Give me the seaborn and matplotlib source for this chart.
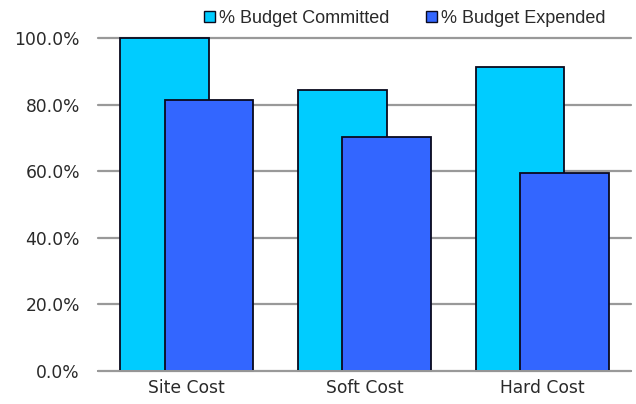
import matplotlib
matplotlib.use("Agg")
import matplotlib.pyplot as plt
import seaborn as sns
import pandas as pd
from matplotlib.patches import Patch
from matplotlib.ticker import PercentFormatter, FixedLocator

categories = ["Site Cost", "Soft Cost", "Hard Cost"]
series = ["% Budget Committed", "% Budget Expended"]
committed = [1.000, 0.843, 0.912]
expended = [0.815, 0.703, 0.595]
colors = ["#00CCFF", "#3366FF"]

df = pd.DataFrame({
    "category": categories * 2,
    "series": [series[0]] * 3 + [series[1]] * 3,
    "value": committed + expended,
})

sns.set_theme(style="white")
plt.rcParams["font.family"] = ["DejaVu Sans"]

fig = plt.figure(figsize=(6.36, 4.04), dpi=100)
ax = fig.add_axes([98/636, 33/404, (631-98)/636, (371-38)/404])

sns.barplot(data=df, x="category", y="value", hue="series", order=categories,
            hue_order=series, palette=colors, width=0.75, dodge=True,
            edgecolor="#0a0a1e", linewidth=1.3, saturation=1, legend=False, ax=ax)

# widen the dodged bars so each pair overlaps (Excel-style overlap)
for i, cont in enumerate(ax.containers):
    for p in cont.patches:
        if i == 1:
            p.set_x(p.get_x() - 0.125)
        p.set_width(0.5)
        p.set_clip_on(False)

ax.set_xlim(-0.5, 2.5)
ax.set_ylim(0, 1.0)
ax.yaxis.set_major_locator(FixedLocator([0, 0.2, 0.4, 0.6, 0.8, 1.0]))
ax.yaxis.set_major_formatter(PercentFormatter(1.0, decimals=1))
ax.set_xlabel("")
ax.set_ylabel("")

ax.set_axisbelow(True)
ax.grid(axis="y", color="#999999", linewidth=1.6)
ax.grid(axis="x", visible=False)
for gl in ax.get_ygridlines():
    gl.set_clip_on(False)

for s in ["top", "right", "left"]:
    ax.spines[s].set_visible(False)
ax.spines["bottom"].set_color("#999999")
ax.spines["bottom"].set_linewidth(1.4)

ax.tick_params(axis="y", length=0, pad=13, labelsize=12.3, labelcolor="#2a2a2a")
ax.tick_params(axis="x", which="major", length=0, pad=6, labelsize=12.3, labelcolor="#2a2a2a")
ax.set_xticks([-0.5, 0.5, 1.5, 2.5], minor=True)
ax.tick_params(axis="x", which="minor", length=4, width=1.4, color="#999999", direction="out")

handles = [Patch(facecolor=c, edgecolor="#0a0a1e", linewidth=1.0) for c in colors]
fig.legend(handles, series, loc="upper left", bbox_to_anchor=(194/636, 1.0),
           ncol=2, frameon=False, handlelength=0.6, handleheight=0.6,
           prop={"family": "Liberation Sans", "size": 13},
           handletextpad=0.25, columnspacing=2.0, borderaxespad=0.15,
           labelcolor="#2a2a2a")

fig.savefig("out.png", dpi=100)
